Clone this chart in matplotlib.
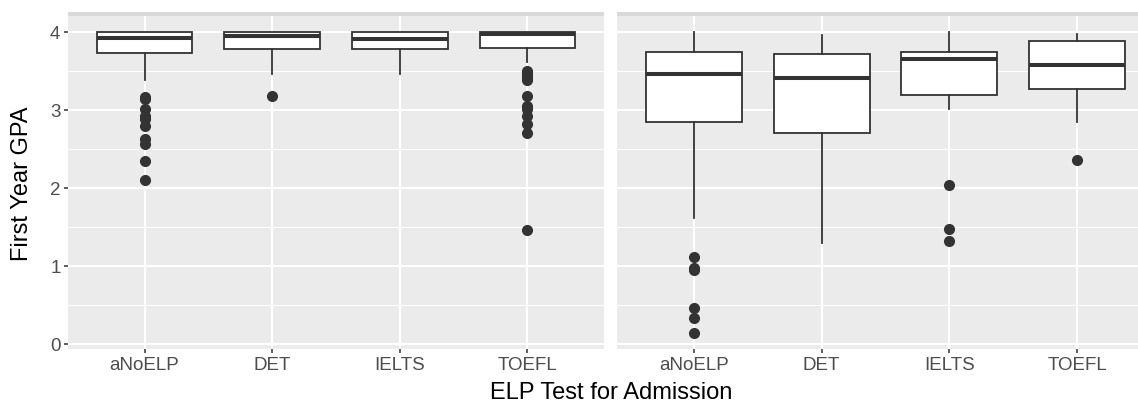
import matplotlib
matplotlib.use("Agg")
import matplotlib.pyplot as plt
from matplotlib.patches import Rectangle

plt.rcParams['font.family'] = ['Liberation Sans', 'DejaVu Sans']

categories = ["aNoELP", "DET", "IELTS", "TOEFL"]

# left facet
left_whislo = [3.38, 3.46, 3.46, 3.61]
left_q1 = [3.73, 3.78, 3.785, 3.80]
left_med = [3.925, 3.945, 3.91, 3.98]
left_q3 = [4.0, 4.0, 4.0, 4.0]
left_whishi = [4.0, 4.0, 4.0, 4.0]
left_fliers = [
    [3.17, 3.14, 3.01, 2.925, 2.88, 2.80, 2.63, 2.56, 2.34, 2.10],
    [3.18],
    [],
    [3.50, 3.47, 3.44, 3.41, 3.38, 3.18, 3.05, 3.01, 2.925, 2.82, 2.71, 1.455],
]

# right facet
right_whislo = [1.62, 1.29, 3.01, 2.85]
right_q1 = [2.85, 2.71, 3.19, 3.27]
right_med = [3.46, 3.405, 3.65, 3.58]
right_q3 = [3.746, 3.72, 3.746, 3.89]
right_whishi = [4.0, 3.96, 4.0, 3.97]
right_fliers = [
    [1.12, 0.98, 0.95, 0.46, 0.33, 0.14],
    [],
    [2.04, 1.48, 1.32],
    [2.36],
]

W, H = 1138, 406
fig = plt.figure(figsize=(W / 100, H / 100), dpi=100)

dark = "#333333"
bg = "#EBEBEB"


def make_stats(lo, q1, med, q3, hi, fl):
    out = []
    for i in range(len(categories)):
        out.append(dict(whislo=lo[i], q1=q1[i], med=med[i], q3=q3[i],
                        whishi=hi[i], fliers=fl[i], label=categories[i]))
    return out


def draw_panel(ax, stats, show_y):
    ax.set_facecolor(bg)
    for s in ax.spines.values():
        s.set_visible(False)
    ax.bxp(stats, positions=range(1, 5), widths=0.75, patch_artist=True,
           showcaps=False,
           boxprops=dict(facecolor="white", edgecolor=dark, linewidth=1.3),
           medianprops=dict(color=dark, linewidth=2.9, solid_capstyle="butt"),
           whiskerprops=dict(color=dark, linewidth=1.3),
           flierprops=dict(marker="o", markersize=7, markerfacecolor=dark,
                           markeredgecolor=dark, linestyle="none"),
           zorder=3)
    ax.set_xlim(0.4, 4.6)
    ax.set_ylim(-0.065, 4.205)
    ax.set_yticks([0, 1, 2, 3, 4])
    ax.set_yticks([0.5, 1.5, 2.5, 3.5], minor=True)
    ax.set_xticks(range(1, 5))
    ax.set_xticklabels(categories)
    ax.grid(which="major", color="white", linewidth=1.45, zorder=0)
    ax.grid(which="minor", axis="y", color="white", linewidth=0.75, zorder=0)
    ax.set_axisbelow(True)
    ax.tick_params(axis="both", which="major", length=2.9, width=1.1,
                   color=dark, labelcolor="#4D4D4D", labelsize=13.5, pad=2.5)
    ax.tick_params(axis="both", which="minor", length=0)
    if not show_y:
        ax.tick_params(axis="y", which="both", length=0, labelleft=False)


px_l, px_r1, px_r2, px_r3 = 68, 604, 617, 1154
top, bot = 17, 350
ax1 = fig.add_axes([px_l / W, 1 - bot / H, (px_r1 - px_l) / W, (bot - top) / H])
ax2 = fig.add_axes([px_r2 / W, 1 - bot / H, (px_r3 - px_r2) / W, (bot - top) / H])

draw_panel(ax1, make_stats(left_whislo, left_q1, left_med, left_q3, left_whishi, left_fliers), True)
draw_panel(ax2, make_stats(right_whislo, right_q1, right_med, right_q3, right_whishi, right_fliers), False)

# facet strips (only their lower edge is visible)
for a, b in [(px_l, px_r1), (px_r2, px_r3)]:
    fig.add_artist(Rectangle((a / W, 1 - top / H), (b - a) / W, 4 / H,
                             transform=fig.transFigure, facecolor="#D9D9D9",
                             edgecolor="none"))

fig.text((px_l + px_r3) / 2 / W, 1 - 393 / H, "ELP Test for Admission",
         ha="center", va="center", fontsize=17, color="black")
fig.text(22 / W, 1 - (top + bot) / 2 / H, "First Year GPA", rotation=90,
         ha="center", va="center", fontsize=17, color="black")

fig.savefig("out.png", dpi=100)
